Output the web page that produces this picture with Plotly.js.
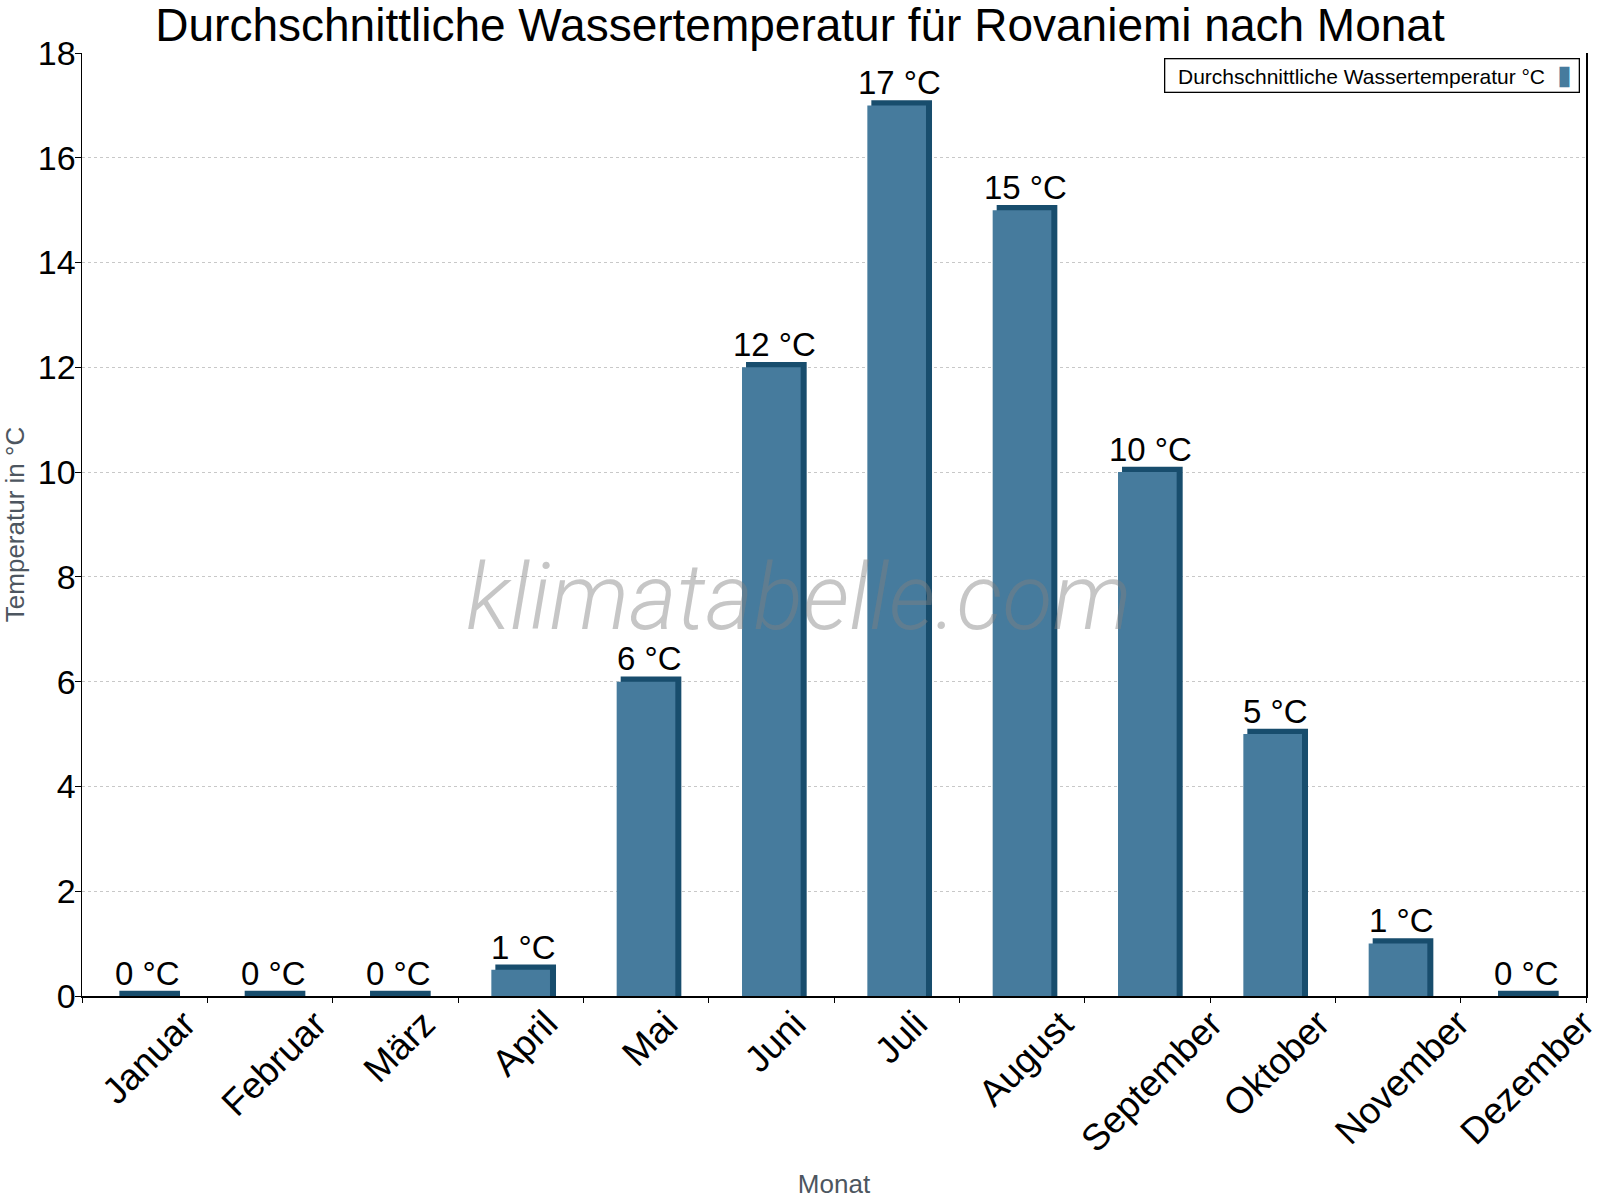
<!DOCTYPE html>
<html>
<head>
<meta charset="utf-8">
<script src="https://cdn.plot.ly/plotly-3.0.1.min.js"></script>
<style>
  body { margin: 0; background: #fff; }
  #chart { width: 1600px; height: 1200px; }
</style>
</head>
<body>
<div id="chart"></div>
<script>
const months = ['Januar', 'Februar', 'März', 'April', 'Mai', 'Juni', 'Juli', 'August',
  'September', 'Oktober', 'November', 'Dezember']
const waterTemp = [0, 0, 0, 0.5, 6, 12, 17, 15, 10, 5, 1, 0]
const tempLabels = ['0 °C', '0 °C', '0 °C', '1 °C', '6 °C', '12 °C', '17 °C', '15 °C',
  '10 °C', '5 °C', '1 °C', '0 °C']
const seriesName = 'Durchschnittliche Wassertemperatur °C'

const faceColor = '#467b9d'
const sideColor = '#184d6d'
const fontFamily = '"Liberation Sans", Arial, sans-serif'
// depth of the fake 3d top edge, in axis units
const depth = 0.1

// dark back part of each bar (top and right side)
const sideTrace = {
  x: months,
  y: waterTemp.map(v => v + depth),
  type: 'bar',
  offset: -0.202,
  width: 0.484,
  marker: { color: sideColor, line: { width: 0 } },
  hoverinfo: 'skip',
  showlegend: false
}

// front face of each bar
const faceTrace = {
  x: months,
  y: waterTemp,
  type: 'bar',
  name: seriesName,
  offset: -0.234,
  width: 0.468,
  marker: { color: faceColor, line: { width: 0 } },
  showlegend: false
}

// value labels sitting on the dark top edge
const valueAnnotations = months.map((m, i) => ({
  text: tempLabels[i],
  xref: 'x',
  yref: 'y',
  x: m,
  y: waterTemp[i] + depth,
  xanchor: 'center',
  yanchor: 'bottom',
  xshift: 3,
  yshift: -3,
  showarrow: false,
  font: { family: fontFamily, size: 33, color: '#000' }
}))

// month labels: rotated round their centre, top edge just under the axis
const monthAnnotations = months.map(m => ({
  text: m,
  xref: 'x',
  yref: 'paper',
  x: m,
  y: 0,
  xanchor: 'center',
  yanchor: 'top',
  xshift: 4,
  yshift: -4,
  textangle: -45,
  showarrow: false,
  font: { family: fontFamily, size: 37, color: '#000' }
}))

const layout = {
  width: 1600,
  height: 1200,
  barmode: 'overlay',
  paper_bgcolor: '#fff',
  plot_bgcolor: '#fff',
  margin: { l: 82, r: 14, t: 53, b: 204 },
  font: { family: fontFamily, color: '#000' },
  title: {
    text: 'Durchschnittliche Wassertemperatur für Rovaniemi nach Monat',
    font: { family: fontFamily, size: 46, color: '#000' },
    x: 0.5,
    xanchor: 'center',
    y: 0.979,
    yanchor: 'middle'
  },
  xaxis: {
    type: 'category',
    range: [-0.5, 11.5],
    tickson: 'boundaries',
    ticks: 'outside',
    ticklen: 5,
    tickcolor: '#000',
    showticklabels: false,
    showline: true,
    linecolor: '#000',
    linewidth: 1.5,
    showgrid: false,
    title: {
      text: 'Monat',
      font: { family: fontFamily, size: 26, color: '#4d5660' },
      standoff: 178
    }
  },
  yaxis: {
    range: [0, 18],
    dtick: 2,
    ticks: 'outside',
    ticklen: 6,
    tickcolor: '#000',
    tickfont: { family: fontFamily, size: 34, color: '#000' },
    ticklabelstandoff: -8,
    showline: true,
    mirror: true,
    linecolor: '#000',
    linewidth: 1.5,
    showgrid: true,
    gridcolor: '#c8c8c8',
    griddash: 'dot',
    gridwidth: 1,
    zeroline: false,
    title: {
      text: 'Temperatur in °C',
      font: { family: fontFamily, size: 26, color: '#4d5660' },
      standoff: 10
    }
  },
  annotations: [
    {
      // watermark
      text: '<i>klimatabelle.com</i>',
      xref: 'paper',
      yref: 'paper',
      x: 0.477,
      y: 0.423,
      xanchor: 'center',
      yanchor: 'middle',
      showarrow: false,
      font: { family: 'Roboto, sans-serif', size: 92, weight: 300, color: 'rgba(128,128,128,0.45)' }
    },
    {
      // legend box with the swatch on the right
      text: '&nbsp;&nbsp;' + seriesName + '&nbsp;&nbsp;<span style="color:' + faceColor + ';font-size:27px">▮</span>&nbsp;',
      xref: 'paper',
      yref: 'paper',
      x: 0.996,
      y: 0.995,
      xanchor: 'right',
      yanchor: 'top',
      showarrow: false,
      bgcolor: '#fff',
      bordercolor: '#000',
      borderwidth: 1.3,
      borderpad: 1,
      font: { family: fontFamily, size: 21, color: '#000' }
    }
  ].concat(valueAnnotations, monthAnnotations)
}

Plotly.newPlot('chart', [sideTrace, faceTrace], layout, { displayModeBar: false, staticPlot: true })
</script>
</body>
</html>
